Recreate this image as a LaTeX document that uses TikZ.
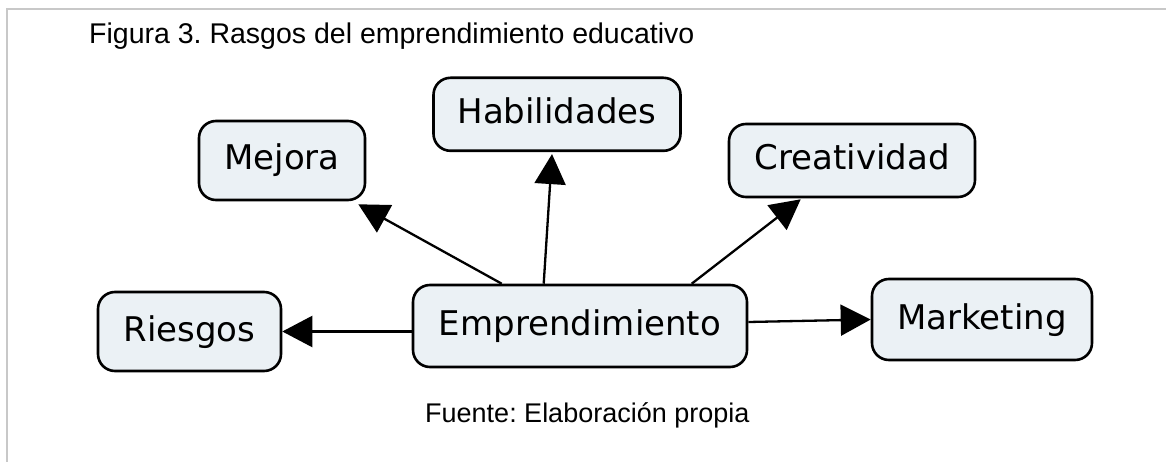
\documentclass[tikz,border=0pt]{standalone}
\usepackage{fontspec}
\setmainfont{Liberation Sans}
\newfontfamily\cmapfont{DejaVu Sans}
\usetikzlibrary{arrows.meta,calc}
\definecolor{boxfill}{RGB}{235,241,245}
\definecolor{framegray}{RGB}{200,200,200}
\frenchspacing
\begin{document}
\begin{tikzpicture}[x=1pt,y=-1pt,
  concept/.style={draw=black, line width=2.6pt, fill=boxfill, rounded corners=17pt,
    inner sep=0pt, text height=26pt, text depth=7pt,
    font=\cmapfont\fontsize{34}{40}\selectfont, text=black},
  link/.style={line width=2.3pt, -{Triangle[length=30pt,width=31pt]}},
  caption/.style={anchor=base west, inner sep=0pt, text=black}
]
\useasboundingbox (0,0) rectangle (1166,462);
\fill[white] (0,0) rectangle (1166,462);
\draw[framegray, line width=2pt] (6,9.5) -- (1166,9.5);
\draw[framegray, line width=2pt] (7,9.5) -- (7,462);

\node[caption, font=\fontsize{28.5}{34}\selectfont] (title) at (89,43.5) {Figura 3. Rasgos del emprendimiento educativo};
\node[caption, font=\fontsize{27}{32}\selectfont] (src) at (425,422.5) {Fuente: Elaboración propia};

\node[concept, minimum width=166, minimum height=79] (mej) at (282,160.5) {Mejora};
\node[concept, minimum width=247, minimum height=73] (hab) at (557,114.3) {Habilidades};
\node[concept, minimum width=246, minimum height=73] (cre) at (852,160.5) {Creatividad};
\node[concept, minimum width=183, minimum height=79] (rie) at (189.5,331.5) {Riesgos};
\node[concept, minimum width=334, minimum height=82] (emp) at (580,326) {Emprendimiento};
\node[concept, minimum width=220, minimum height=81] (mkt) at (982,319.5) {Marketing};

\draw[link] ($(emp.north west)+(90,0)$) -- ($(mej.south east)+(-8,3)$);
\draw[link] ($(emp.north west)+(132,0)$) -- ($(hab.south)+(-5,2)$);
\draw[link] ($(emp.north west)+(280,0)$) -- ($(cre.south west)+(73,1)$);
\draw[link] (emp.west |- rie.east) -- (rie.east);
\draw[link] ($(emp.east)+(0,-4)$) -- (mkt.west);
\end{tikzpicture}
\end{document}
